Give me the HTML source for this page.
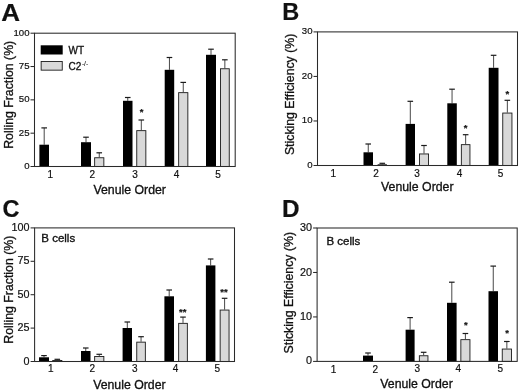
<!DOCTYPE html>
<html lang="en">
<head>
<meta charset="utf-8">
<title>Figure</title>
<style>
html,body{margin:0;padding:0;background:#fff;}
body{width:520px;height:390px;overflow:hidden;}
svg{display:block;}
svg text{font-family:"Liberation Sans", sans-serif;fill:#111;stroke:#111;stroke-width:0.2px;}
svg text.t{stroke-width:0.32px;}
</style>
</head>
<body>
<svg width="520" height="390" viewBox="0 0 520 390">
<rect width="520" height="390" fill="#fff"/>
<path d="M44.2 144.7V127.9" stroke="#333" stroke-width="0.9" fill="none"/><path d="M41.4 127.9H47" stroke="#1a1a1a" stroke-width="1.2" fill="none"/>
<rect x="39.4" y="144.7" width="9.6" height="21.8" fill="#000"/>
<path d="M86 142.2V137.2" stroke="#333" stroke-width="0.9" fill="none"/><path d="M83.2 137.2H88.8" stroke="#1a1a1a" stroke-width="1.2" fill="none"/>
<rect x="81" y="142.2" width="10" height="24.3" fill="#000"/>
<path d="M99.25 157.3V152.8" stroke="#333" stroke-width="0.9" fill="none"/><path d="M96.45 152.8H102.05" stroke="#1a1a1a" stroke-width="1.2" fill="none"/>
<rect x="94.65" y="157.75" width="9.2" height="8.75" fill="#d9d9d9" stroke="#1a1a1a" stroke-width="0.9"/>
<path d="M127.75 100.8V97.5" stroke="#333" stroke-width="0.9" fill="none"/><path d="M124.95 97.5H130.55" stroke="#1a1a1a" stroke-width="1.2" fill="none"/>
<rect x="123" y="100.8" width="9.5" height="65.7" fill="#000"/>
<path d="M141.3 130.2V120" stroke="#333" stroke-width="0.9" fill="none"/><path d="M138.5 120H144.1" stroke="#1a1a1a" stroke-width="1.2" fill="none"/>
<rect x="136.75" y="130.65" width="9.1" height="35.85" fill="#d9d9d9" stroke="#1a1a1a" stroke-width="0.9"/>
<path d="M169.45 69.8V57.5" stroke="#333" stroke-width="0.9" fill="none"/><path d="M166.65 57.5H172.25" stroke="#1a1a1a" stroke-width="1.2" fill="none"/>
<rect x="164.7" y="69.8" width="9.5" height="96.7" fill="#000"/>
<path d="M183.25 92.2V82.4" stroke="#333" stroke-width="0.9" fill="none"/><path d="M180.45 82.4H186.05" stroke="#1a1a1a" stroke-width="1.2" fill="none"/>
<rect x="178.65" y="92.65" width="9.2" height="73.85" fill="#d9d9d9" stroke="#1a1a1a" stroke-width="0.9"/>
<path d="M211 54.8V49.2" stroke="#333" stroke-width="0.9" fill="none"/><path d="M208.2 49.2H213.8" stroke="#1a1a1a" stroke-width="1.2" fill="none"/>
<rect x="206" y="54.8" width="10" height="111.7" fill="#000"/>
<path d="M224.85 68.3V59.8" stroke="#333" stroke-width="0.9" fill="none"/><path d="M222.05 59.8H227.65" stroke="#1a1a1a" stroke-width="1.2" fill="none"/>
<rect x="220.45" y="68.75" width="8.8" height="97.75" fill="#d9d9d9" stroke="#1a1a1a" stroke-width="0.9"/>
<rect x="34.5" y="33.2" width="200.7" height="133.3" fill="none" stroke="#2a2a2a" stroke-width="1.05"/>
<path d="M30.5 166.5H34.5" stroke="#2a2a2a" stroke-width="1.05"/>
<text x="29.5" y="168.96" font-size="9.6" text-anchor="end" font-weight="normal">0</text>
<path d="M30.5 133.18H34.5" stroke="#2a2a2a" stroke-width="1.05"/>
<text x="29.5" y="135.63" font-size="9.6" text-anchor="end" font-weight="normal">25</text>
<path d="M30.5 99.85H34.5" stroke="#2a2a2a" stroke-width="1.05"/>
<text x="29.5" y="102.31" font-size="9.6" text-anchor="end" font-weight="normal">50</text>
<path d="M30.5 66.52H34.5" stroke="#2a2a2a" stroke-width="1.05"/>
<text x="29.5" y="68.98" font-size="9.6" text-anchor="end" font-weight="normal">75</text>
<path d="M30.5 33.2H34.5" stroke="#2a2a2a" stroke-width="1.05"/>
<text x="29.5" y="35.66" font-size="9.6" text-anchor="end" font-weight="normal">100</text>
<text x="50.3" y="178.3" font-size="10" text-anchor="middle" font-weight="normal">1</text>
<text x="92.4" y="178.3" font-size="10" text-anchor="middle" font-weight="normal">2</text>
<text x="135.1" y="178.3" font-size="10" text-anchor="middle" font-weight="normal">3</text>
<text x="176.5" y="178.3" font-size="10" text-anchor="middle" font-weight="normal">4</text>
<text x="218" y="178.3" font-size="10" text-anchor="middle" font-weight="normal">5</text>
<text x="129.7" y="194" font-size="12.3" text-anchor="middle" font-weight="normal" class="t">Venule Order</text>
<text transform="translate(13.1 94.8) rotate(-90)" font-size="12.3" text-anchor="middle" class="t">Rolling Fraction (%)</text>
<text transform="translate(1.3 20.6) scale(1.07 1)" font-size="24.3" font-weight="bold">A</text>
<text x="141.5" y="115.4" font-size="9.5" text-anchor="middle" font-weight="bold">*</text>
<rect x="40.7" y="45.3" width="22" height="9.2" fill="#000"/>
<rect x="41.15" y="61.45" width="21.1" height="8.7" fill="#d9d9d9" stroke="#1a1a1a" stroke-width="0.9"/>
<text x="68.5" y="53.6" font-size="10" text-anchor="start" class="t">WT</text>
<text x="68.5" y="69.6" font-size="10" text-anchor="start" class="t">C2<tspan dx="0.6" dy="-3.8" font-size="6.6" stroke-width="0.1">-/-</tspan></text>
<path d="M368.25 152.3V144" stroke="#333" stroke-width="0.9" fill="none"/><path d="M365.45 144H371.05" stroke="#1a1a1a" stroke-width="1.2" fill="none"/>
<rect x="363.5" y="152.3" width="9.5" height="13.2" fill="#000"/>
<path d="M382.3 164.3V163.3" stroke="#333" stroke-width="0.9" fill="none"/><path d="M379.5 163.3H385.1" stroke="#1a1a1a" stroke-width="1.2" fill="none"/>
<rect x="378.05" y="164.75" width="8.5" height="0.75" fill="#d9d9d9" stroke="#1a1a1a" stroke-width="0.9"/>
<path d="M410.3 123.9V101.3" stroke="#333" stroke-width="0.9" fill="none"/><path d="M407.5 101.3H413.1" stroke="#1a1a1a" stroke-width="1.2" fill="none"/>
<rect x="405.6" y="123.9" width="9.4" height="41.6" fill="#000"/>
<path d="M424 153.5V145.5" stroke="#333" stroke-width="0.9" fill="none"/><path d="M421.2 145.5H426.8" stroke="#1a1a1a" stroke-width="1.2" fill="none"/>
<rect x="419.45" y="153.95" width="9.1" height="11.55" fill="#d9d9d9" stroke="#1a1a1a" stroke-width="0.9"/>
<path d="M452.05 103.3V89.2" stroke="#333" stroke-width="0.9" fill="none"/><path d="M449.25 89.2H454.85" stroke="#1a1a1a" stroke-width="1.2" fill="none"/>
<rect x="447.3" y="103.3" width="9.5" height="62.2" fill="#000"/>
<path d="M465.65 144.2V134.7" stroke="#333" stroke-width="0.9" fill="none"/><path d="M462.85 134.7H468.45" stroke="#1a1a1a" stroke-width="1.2" fill="none"/>
<rect x="461.35" y="144.65" width="8.6" height="20.85" fill="#d9d9d9" stroke="#1a1a1a" stroke-width="0.9"/>
<path d="M493.6 67.8V55.3" stroke="#333" stroke-width="0.9" fill="none"/><path d="M490.8 55.3H496.4" stroke="#1a1a1a" stroke-width="1.2" fill="none"/>
<rect x="488.7" y="67.8" width="9.8" height="97.7" fill="#000"/>
<path d="M507.35 112.6V100.3" stroke="#333" stroke-width="0.9" fill="none"/><path d="M504.55 100.3H510.15" stroke="#1a1a1a" stroke-width="1.2" fill="none"/>
<rect x="502.75" y="113.05" width="9.2" height="52.45" fill="#d9d9d9" stroke="#1a1a1a" stroke-width="0.9"/>
<rect x="317.5" y="31.9" width="200" height="133.6" fill="none" stroke="#2a2a2a" stroke-width="1.05"/>
<path d="M313.5 165.5H317.5" stroke="#2a2a2a" stroke-width="1.05"/>
<text x="312.5" y="167.96" font-size="9.6" text-anchor="end" font-weight="normal">0</text>
<path d="M313.5 120.97H317.5" stroke="#2a2a2a" stroke-width="1.05"/>
<text x="312.5" y="123.42" font-size="9.6" text-anchor="end" font-weight="normal">10</text>
<path d="M313.5 76.43H317.5" stroke="#2a2a2a" stroke-width="1.05"/>
<text x="312.5" y="78.89" font-size="9.6" text-anchor="end" font-weight="normal">20</text>
<path d="M313.5 31.9H317.5" stroke="#2a2a2a" stroke-width="1.05"/>
<text x="312.5" y="34.36" font-size="9.6" text-anchor="end" font-weight="normal">30</text>
<text x="333.2" y="176.8" font-size="10" text-anchor="middle" font-weight="normal">1</text>
<text x="376" y="176.8" font-size="10" text-anchor="middle" font-weight="normal">2</text>
<text x="417.1" y="176.8" font-size="10" text-anchor="middle" font-weight="normal">3</text>
<text x="459.6" y="176.8" font-size="10" text-anchor="middle" font-weight="normal">4</text>
<text x="500.6" y="176.8" font-size="10" text-anchor="middle" font-weight="normal">5</text>
<text x="417.3" y="190.7" font-size="12.3" text-anchor="middle" font-weight="normal" class="t">Venule Order</text>
<text transform="translate(293.5 94.4) rotate(-90)" font-size="12.3" text-anchor="middle" class="t">Sticking Efficiency (%)</text>
<text transform="translate(282.2 20.2) scale(0.97 1)" font-size="24.3" font-weight="bold">B</text>
<text x="465.6" y="130.5" font-size="9.5" text-anchor="middle" font-weight="bold">*</text>
<text x="507.3" y="96.5" font-size="9.5" text-anchor="middle" font-weight="bold">*</text>
<path d="M44 357.3V355.6" stroke="#333" stroke-width="0.9" fill="none"/><path d="M41.2 355.6H46.8" stroke="#1a1a1a" stroke-width="1.2" fill="none"/>
<rect x="39" y="357.3" width="10" height="4.2" fill="#000"/>
<path d="M57.3 360V359.3" stroke="#333" stroke-width="0.9" fill="none"/><path d="M54.5 359.3H60.1" stroke="#1a1a1a" stroke-width="1.2" fill="none"/>
<rect x="52.75" y="360.45" width="9.1" height="1.05" fill="#d9d9d9" stroke="#1a1a1a" stroke-width="0.9"/>
<path d="M85.75 351V348" stroke="#333" stroke-width="0.9" fill="none"/><path d="M82.95 348H88.55" stroke="#1a1a1a" stroke-width="1.2" fill="none"/>
<rect x="81" y="351" width="9.5" height="10.5" fill="#000"/>
<path d="M99.25 356V354.3" stroke="#333" stroke-width="0.9" fill="none"/><path d="M96.45 354.3H102.05" stroke="#1a1a1a" stroke-width="1.2" fill="none"/>
<rect x="94.65" y="356.45" width="9.2" height="5.05" fill="#d9d9d9" stroke="#1a1a1a" stroke-width="0.9"/>
<path d="M127.3 328V322" stroke="#333" stroke-width="0.9" fill="none"/><path d="M124.5 322H130.1" stroke="#1a1a1a" stroke-width="1.2" fill="none"/>
<rect x="122.6" y="328" width="9.4" height="33.5" fill="#000"/>
<path d="M141.05 341.7V336.7" stroke="#333" stroke-width="0.9" fill="none"/><path d="M138.25 336.7H143.85" stroke="#1a1a1a" stroke-width="1.2" fill="none"/>
<rect x="136.75" y="342.15" width="8.6" height="19.35" fill="#d9d9d9" stroke="#1a1a1a" stroke-width="0.9"/>
<path d="M169.2 296.3V290" stroke="#333" stroke-width="0.9" fill="none"/><path d="M166.4 290H172" stroke="#1a1a1a" stroke-width="1.2" fill="none"/>
<rect x="164.4" y="296.3" width="9.6" height="65.2" fill="#000"/>
<path d="M183 322.9V317.1" stroke="#333" stroke-width="0.9" fill="none"/><path d="M180.2 317.1H185.8" stroke="#1a1a1a" stroke-width="1.2" fill="none"/>
<rect x="178.65" y="323.35" width="8.7" height="38.15" fill="#d9d9d9" stroke="#1a1a1a" stroke-width="0.9"/>
<path d="M210.65 265.4V259" stroke="#333" stroke-width="0.9" fill="none"/><path d="M207.85 259H213.45" stroke="#1a1a1a" stroke-width="1.2" fill="none"/>
<rect x="205.9" y="265.4" width="9.5" height="96.1" fill="#000"/>
<path d="M224.6 309.6V298.3" stroke="#333" stroke-width="0.9" fill="none"/><path d="M221.8 298.3H227.4" stroke="#1a1a1a" stroke-width="1.2" fill="none"/>
<rect x="220.15" y="310.05" width="8.9" height="51.45" fill="#d9d9d9" stroke="#1a1a1a" stroke-width="0.9"/>
<rect x="34.6" y="227.9" width="199.9" height="133.6" fill="none" stroke="#2a2a2a" stroke-width="1.05"/>
<path d="M30.6 361.5H34.6" stroke="#2a2a2a" stroke-width="1.05"/>
<text x="29.6" y="364.59" font-size="10.8" text-anchor="end" font-weight="normal">0</text>
<path d="M30.6 328.1H34.6" stroke="#2a2a2a" stroke-width="1.05"/>
<text x="29.6" y="331.19" font-size="10.8" text-anchor="end" font-weight="normal">25</text>
<path d="M30.6 294.7H34.6" stroke="#2a2a2a" stroke-width="1.05"/>
<text x="29.6" y="297.79" font-size="10.8" text-anchor="end" font-weight="normal">50</text>
<path d="M30.6 261.3H34.6" stroke="#2a2a2a" stroke-width="1.05"/>
<text x="29.6" y="264.39" font-size="10.8" text-anchor="end" font-weight="normal">75</text>
<path d="M30.6 227.9H34.6" stroke="#2a2a2a" stroke-width="1.05"/>
<text x="29.6" y="230.99" font-size="10.8" text-anchor="end" font-weight="normal">100</text>
<text x="50.7" y="372.4" font-size="10" text-anchor="middle" font-weight="normal">1</text>
<text x="92.2" y="372.4" font-size="10" text-anchor="middle" font-weight="normal">2</text>
<text x="134.7" y="372.4" font-size="10" text-anchor="middle" font-weight="normal">3</text>
<text x="175.6" y="372.4" font-size="10" text-anchor="middle" font-weight="normal">4</text>
<text x="217.4" y="372.4" font-size="10" text-anchor="middle" font-weight="normal">5</text>
<text x="129.4" y="388.8" font-size="12.3" text-anchor="middle" font-weight="normal" class="t">Venule Order</text>
<text transform="translate(13.1 289.7) rotate(-90)" font-size="12.3" text-anchor="middle" class="t">Rolling Fraction (%)</text>
<text transform="translate(2.4 217.2) scale(0.97 1)" font-size="24.3" font-weight="bold">C</text>
<text x="182.8" y="315.4" font-size="9.5" text-anchor="middle" font-weight="bold">**</text>
<text x="223.9" y="295.4" font-size="9.5" text-anchor="middle" font-weight="bold">**</text>
<text transform="translate(41.3 241.6) scale(1.15 1)" font-size="10" class="t">B cells</text>
<path d="M368 355.6V353" stroke="#333" stroke-width="0.9" fill="none"/><path d="M365.2 353H370.8" stroke="#1a1a1a" stroke-width="1.2" fill="none"/>
<rect x="363" y="355.6" width="10" height="5.8" fill="#000"/>
<path d="M410.1 329.7V317.6" stroke="#333" stroke-width="0.9" fill="none"/><path d="M407.3 317.6H412.9" stroke="#1a1a1a" stroke-width="1.2" fill="none"/>
<rect x="405.6" y="329.7" width="9" height="31.7" fill="#000"/>
<path d="M423.65 355.3V352.3" stroke="#333" stroke-width="0.9" fill="none"/><path d="M420.85 352.3H426.45" stroke="#1a1a1a" stroke-width="1.2" fill="none"/>
<rect x="419.35" y="355.75" width="8.6" height="5.65" fill="#d9d9d9" stroke="#1a1a1a" stroke-width="0.9"/>
<path d="M451.8 302.8V282.2" stroke="#333" stroke-width="0.9" fill="none"/><path d="M449 282.2H454.6" stroke="#1a1a1a" stroke-width="1.2" fill="none"/>
<rect x="447" y="302.8" width="9.6" height="58.6" fill="#000"/>
<path d="M465.4 339.2V333.5" stroke="#333" stroke-width="0.9" fill="none"/><path d="M462.6 333.5H468.2" stroke="#1a1a1a" stroke-width="1.2" fill="none"/>
<rect x="460.85" y="339.65" width="9.1" height="21.75" fill="#d9d9d9" stroke="#1a1a1a" stroke-width="0.9"/>
<path d="M493.25 291.2V266.1" stroke="#333" stroke-width="0.9" fill="none"/><path d="M490.45 266.1H496.05" stroke="#1a1a1a" stroke-width="1.2" fill="none"/>
<rect x="488.5" y="291.2" width="9.5" height="70.2" fill="#000"/>
<path d="M506.85 348.6V341.5" stroke="#333" stroke-width="0.9" fill="none"/><path d="M504.05 341.5H509.65" stroke="#1a1a1a" stroke-width="1.2" fill="none"/>
<rect x="502.25" y="349.05" width="9.2" height="12.35" fill="#d9d9d9" stroke="#1a1a1a" stroke-width="0.9"/>
<rect x="317.1" y="228" width="200.1" height="133.4" fill="none" stroke="#2a2a2a" stroke-width="1.05"/>
<path d="M313.1 361.4H317.1" stroke="#2a2a2a" stroke-width="1.05"/>
<text x="312.1" y="364.49" font-size="10.8" text-anchor="end" font-weight="normal">0</text>
<path d="M313.1 316.93H317.1" stroke="#2a2a2a" stroke-width="1.05"/>
<text x="312.1" y="320.02" font-size="10.8" text-anchor="end" font-weight="normal">10</text>
<path d="M313.1 272.47H317.1" stroke="#2a2a2a" stroke-width="1.05"/>
<text x="312.1" y="275.55" font-size="10.8" text-anchor="end" font-weight="normal">20</text>
<path d="M313.1 228H317.1" stroke="#2a2a2a" stroke-width="1.05"/>
<text x="312.1" y="231.09" font-size="10.8" text-anchor="end" font-weight="normal">30</text>
<text x="333.5" y="372.7" font-size="10" text-anchor="middle" font-weight="normal">1</text>
<text x="375.2" y="372.9" font-size="10" text-anchor="middle" font-weight="normal">2</text>
<text x="417.2" y="372.1" font-size="10" text-anchor="middle" font-weight="normal">3</text>
<text x="458.3" y="371.7" font-size="10" text-anchor="middle" font-weight="normal">4</text>
<text x="500.2" y="372" font-size="10" text-anchor="middle" font-weight="normal">5</text>
<text x="416.5" y="388" font-size="12.3" text-anchor="middle" font-weight="normal" class="t">Venule Order</text>
<text transform="translate(292.6 292.7) rotate(-90)" font-size="12.3" text-anchor="middle" class="t">Sticking Efficiency (%)</text>
<text transform="translate(282 217.1) scale(1.0 1)" font-size="24.3" font-weight="bold">D</text>
<text x="465.9" y="328" font-size="9.5" text-anchor="middle" font-weight="bold">*</text>
<text x="507" y="335.5" font-size="9.5" text-anchor="middle" font-weight="bold">*</text>
<text transform="translate(326.5 245.1) scale(1.15 1)" font-size="10" class="t">B cells</text>
</svg>
</body>
</html>
